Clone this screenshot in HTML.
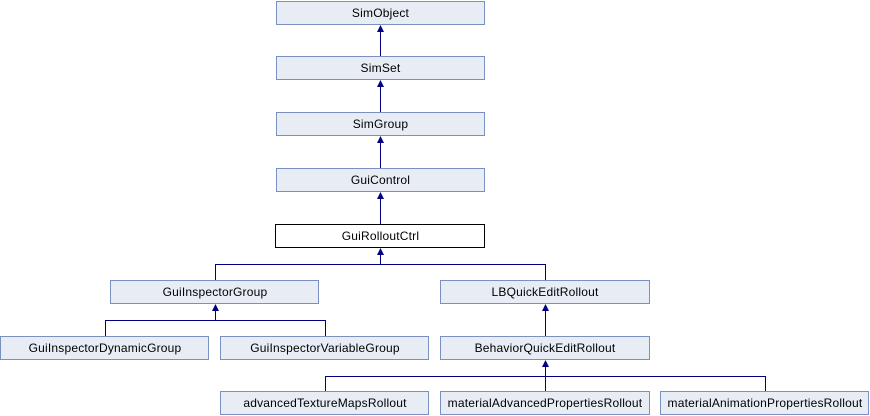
<!DOCTYPE html>
<html><head><style>body{margin:0;background:#fff}svg{display:block}</style></head><body>
<svg width="870" height="416" xmlns="http://www.w3.org/2000/svg" font-family="Liberation Sans, sans-serif" font-size="12" letter-spacing="0.2">
<g fill="#e8ecf5" stroke="#7a90c0" stroke-width="1">
<rect x="276.5" y="1.5" width="208" height="23"/>
<rect x="276.5" y="56.5" width="208" height="23"/>
<rect x="276.5" y="112.5" width="208" height="23"/>
<rect x="276.5" y="168.5" width="208" height="23"/>
<rect x="110.5" y="280.5" width="208" height="23"/>
<rect x="440.5" y="280.5" width="209" height="23"/>
<rect x="0.5" y="336.5" width="208" height="23"/>
<rect x="220.5" y="336.5" width="208" height="23"/>
<rect x="440.5" y="336.5" width="209" height="23"/>
<rect x="220.5" y="391.5" width="208" height="23"/>
<rect x="440.5" y="391.5" width="209" height="23"/>
<rect x="660.5" y="391.5" width="208" height="23"/>
</g>
<rect x="275.5" y="224.5" width="209" height="23" fill="#fff" stroke="#000"/>
<g stroke="#000080" stroke-width="1" fill="none">
<path d="M380.5 56V30M380.5 112V85M380.5 168V141M380.5 224V197M380.5 264V253M215.5 280V264.5H545.5V280M215.5 309V320.5M105.5 336V320.5H325.5V336M545.5 336V309M545.5 365V376.5M325.5 391V376.5H765.5V391M545.5 391V376"/>
</g>
<g fill="#000080">
<path d="M380.5 25l-3.5 7h7z"/><path d="M380.5 80l-3.5 7h7z"/><path d="M380.5 136l-3.5 7h7z"/><path d="M380.5 192l-3.5 7h7z"/><path d="M380.5 248l-3.5 7h7z"/>
<path d="M215.5 304l-3.5 7h7z"/><path d="M545.5 304l-3.5 7h7z"/><path d="M545.5 360l-3.5 7h7z"/>
</g>
<g text-anchor="middle" fill="#000">
<text x="380.5" y="17">SimObject</text>
<text x="380.5" y="72">SimSet</text>
<text x="380.5" y="128">SimGroup</text>
<text x="380.5" y="184">GuiControl</text>
<text x="380.5" y="240">GuiRolloutCtrl</text>
<text x="215" y="296">GuiInspectorGroup</text>
<text x="545" y="296">LBQuickEditRollout</text>
<text x="105" y="352">GuiInspectorDynamicGroup</text>
<text x="325" y="352">GuiInspectorVariableGroup</text>
<text x="545" y="352">BehaviorQuickEditRollout</text>
<text x="325" y="407">advancedTextureMapsRollout</text>
<text x="545" y="407">materialAdvancedPropertiesRollout</text>
<text x="765" y="407">materialAnimationPropertiesRollout</text>
</g>
</svg>
</body></html>
